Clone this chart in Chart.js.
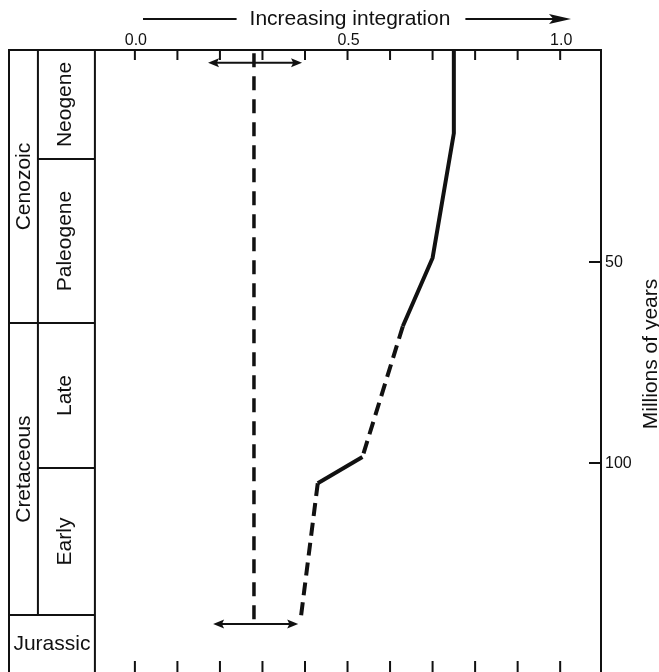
<!DOCTYPE html>
<html>
<head>
<meta charset="utf-8">
<script src="https://cdn.jsdelivr.net/npm/chart.js@4/dist/chart.umd.min.js"></script>
<style>
  html, body { margin: 0; padding: 0; background: #ffffff; }
  #wrap { position: relative; width: 659px; height: 672px; }
</style>
</head>
<body>
<div id="wrap"><canvas id="c"></canvas></div>
<script>
// ---- data ----
const titleText = 'Increasing integration';
const yAxisTitle = 'Millions of years';
const xTickValues = [0.0, 0.1, 0.2, 0.3, 0.4, 0.5, 0.6, 0.7, 0.8, 0.9, 1.0];
const xLabelValues = [0.0, 0.5, 1.0];
const xLabelTexts = ['0.0', '0.5', '1.0'];
const ageTickValues = [50, 100];
const ageTickTexts = ['50', '100'];

// integration curve (x = integration index, y = age in Ma)
const curveIntegration = [0.75, 0.75, 0.70, 0.63, 0.535, 0.43, 0.39];
const curveAge = [-2.7, 18, 49, 66, 98.5, 105, 138.6];
const curveSegmentDashed = [false, false, false, true, false, true];

// reference (dashed vertical) line and range arrows
const refIntegration = [0.28, 0.28];
const refAge = [-1.9, 140];
const rangeArrowAge = [0.5, 140];
const rangeArrowMin = [0.172, 0.184];
const rangeArrowMax = [0.393, 0.384];

// geological time scale
const periodNames = ['Neogene', 'Paleogene', 'Late', 'Early'];
const periodBounds = [-2.7, 24.4, 65.2, 101.2, 137.8];
const eraNames = ['Cenozoic', 'Cretaceous'];
const eraBounds = [-2.7, 65.2, 137.8];
const lowestUnit = 'Jurassic';
const columnEdges = [-0.296, -0.228, -0.094]; // outer left, era/period divider, plot left

const X_MIN = -0.296, X_MAX = 1.096;
const AGE_MIN = -2.7, AGE_MAX = 151.7;

// ---- build datasets ----
const curvePts = curveIntegration.map((v, i) => ({ x: v, y: curveAge[i] }));
const refPts = refIntegration.map((v, i) => ({ x: v, y: refAge[i] }));
const arrowSets = rangeArrowAge.map((a, i) => ({
  type: 'scatter', showLine: true, pointRadius: 0, borderColor: '#111', borderWidth: 2,
  data: [{ x: rangeArrowMin[i] + 0.015, y: a }, { x: rangeArrowMax[i] - 0.015, y: a }]
}));

const FONT = '"Liberation Sans", Arial, sans-serif';
const INK = '#111';

function arrowHead(ctx, tipX, tipY, dir, len, half) {
  ctx.beginPath();
  ctx.moveTo(tipX, tipY);
  ctx.lineTo(tipX - dir * len, tipY - half);
  ctx.lineTo(tipX - dir * len * 0.8, tipY);
  ctx.lineTo(tipX - dir * len, tipY + half);
  ctx.closePath();
  ctx.fill();
}

const decor = {
  id: 'decor',
  afterDatasetsDraw(chart) {
    const { ctx, chartArea: ca, scales } = chart;
    const xs = scales.x, ys = scales.y;
    const px = v => xs.getPixelForValue(v);
    const py = v => ys.getPixelForValue(v);
    ctx.save();
    ctx.strokeStyle = INK; ctx.fillStyle = INK;
    ctx.lineCap = 'butt';

    // frame
    ctx.lineWidth = 2;
    ctx.beginPath();
    ctx.moveTo(ca.left, ca.bottom + 2); ctx.lineTo(ca.left, ca.top);
    ctx.lineTo(ca.right, ca.top); ctx.lineTo(ca.right, ca.bottom + 2);
    ctx.stroke();
    // column edges
    ctx.beginPath();
    ctx.moveTo(px(columnEdges[2]), ca.top); ctx.lineTo(px(columnEdges[2]), ca.bottom + 2);
    ctx.moveTo(px(columnEdges[1]), ca.top); ctx.lineTo(px(columnEdges[1]), py(periodBounds[4]));
    ctx.stroke();
    // period boundaries (inner column)
    ctx.beginPath();
    for (let i = 1; i < periodBounds.length; i++) {
      const y = py(periodBounds[i]);
      ctx.moveTo(px(columnEdges[1]), y); ctx.lineTo(px(columnEdges[2]), y);
    }
    // era boundaries (full width)
    for (let i = 1; i < eraBounds.length; i++) {
      const y = py(eraBounds[i]);
      ctx.moveTo(px(columnEdges[0]), y); ctx.lineTo(px(columnEdges[2]), y);
    }
    ctx.stroke();

    // time-scale labels
    ctx.font = '21px ' + FONT;
    ctx.textAlign = 'center'; ctx.textBaseline = 'middle';
    const cxNarrow = (px(columnEdges[0]) + px(columnEdges[1])) / 2 + 1;
    const cxWide = (px(columnEdges[1]) + px(columnEdges[2])) / 2 - 1;
    periodNames.forEach((n, i) => {
      const cy = (py(periodBounds[i]) + py(periodBounds[i + 1])) / 2;
      ctx.save(); ctx.translate(cxWide, cy); ctx.rotate(-Math.PI / 2);
      ctx.fillText(n, 0, 0); ctx.restore();
    });
    eraNames.forEach((n, i) => {
      const cy = (py(eraBounds[i]) + py(eraBounds[i + 1])) / 2;
      ctx.save(); ctx.translate(cxNarrow, cy); ctx.rotate(-Math.PI / 2);
      ctx.fillText(n, 0, 0); ctx.restore();
    });
    ctx.fillText(lowestUnit, (px(columnEdges[0]) + px(columnEdges[2])) / 2, py(periodBounds[4]) + 29);

    // top & bottom ticks
    ctx.lineWidth = 2;
    ctx.beginPath();
    xTickValues.forEach(v => {
      const x = px(v);
      ctx.moveTo(x, ca.top); ctx.lineTo(x, ca.top + 10);
      ctx.moveTo(x, ca.bottom + 2); ctx.lineTo(x, ca.bottom - 10);
    });
    // right age ticks
    ageTickValues.forEach(v => {
      const y = py(v);
      ctx.moveTo(ca.right - 12, y); ctx.lineTo(ca.right, y);
    });
    ctx.stroke();

    // tick labels
    ctx.font = '16px ' + FONT;
    ctx.textAlign = 'center'; ctx.textBaseline = 'middle';
    xLabelValues.forEach((v, i) => ctx.fillText(xLabelTexts[i], px(v) + 1, ca.top - 9));
    ctx.textAlign = 'left';
    ageTickValues.forEach((v, i) => ctx.fillText(ageTickTexts[i], ca.right + 4, py(v) + 1));

    // right axis title
    ctx.font = '21px ' + FONT;
    ctx.textAlign = 'center';
    ctx.save(); ctx.translate(651, 354); ctx.rotate(-Math.PI / 2);
    ctx.fillText(yAxisTitle, 0, 0); ctx.restore();

    // top title with arrow
    ctx.font = '21px ' + FONT;
    const tx = 350, ty = 19;
    ctx.fillText(titleText, tx, ty);
    const tw = ctx.measureText(titleText).width;
    ctx.lineWidth = 2;
    ctx.beginPath();
    ctx.moveTo(143, ty); ctx.lineTo(tx - tw / 2 - 13, ty);
    ctx.moveTo(tx + tw / 2 + 15, ty); ctx.lineTo(555, ty);
    ctx.stroke();
    arrowHead(ctx, 571, ty, 1, 22, 5);

    // range arrow heads
    rangeArrowAge.forEach((a, i) => {
      const y = py(a);
      arrowHead(ctx, px(rangeArrowMin[i]), y, -1, 11, 4.5);
      arrowHead(ctx, px(rangeArrowMax[i]), y, 1, 11, 4.5);
    });
    ctx.restore();
  }
};

new Chart(document.getElementById('c'), {
  type: 'scatter',
  data: {
    datasets: [
      {
        data: curvePts, showLine: true, pointRadius: 0, borderColor: INK, borderWidth: 4,
        borderJoinStyle: 'round',
        segment: { borderDash: c => curveSegmentDashed[c.p0DataIndex] ? [13, 7] : undefined }
      },
      {
        data: refPts, showLine: true, pointRadius: 0, borderColor: INK, borderWidth: 3.5,
        borderDash: [14, 9]
      },
      ...arrowSets
    ]
  },
  options: {
    responsive: true, maintainAspectRatio: false, animation: false,
    layout: { padding: { left: 9, top: 50, right: 58, bottom: 1 } },
    plugins: { legend: { display: false }, tooltip: { enabled: false } },
    scales: {
      x: { type: 'linear', min: X_MIN, max: X_MAX, display: false },
      y: { type: 'linear', min: AGE_MIN, max: AGE_MAX, reverse: true, display: false }
    }
  },
  plugins: [decor]
});
</script>
</body>
</html>
